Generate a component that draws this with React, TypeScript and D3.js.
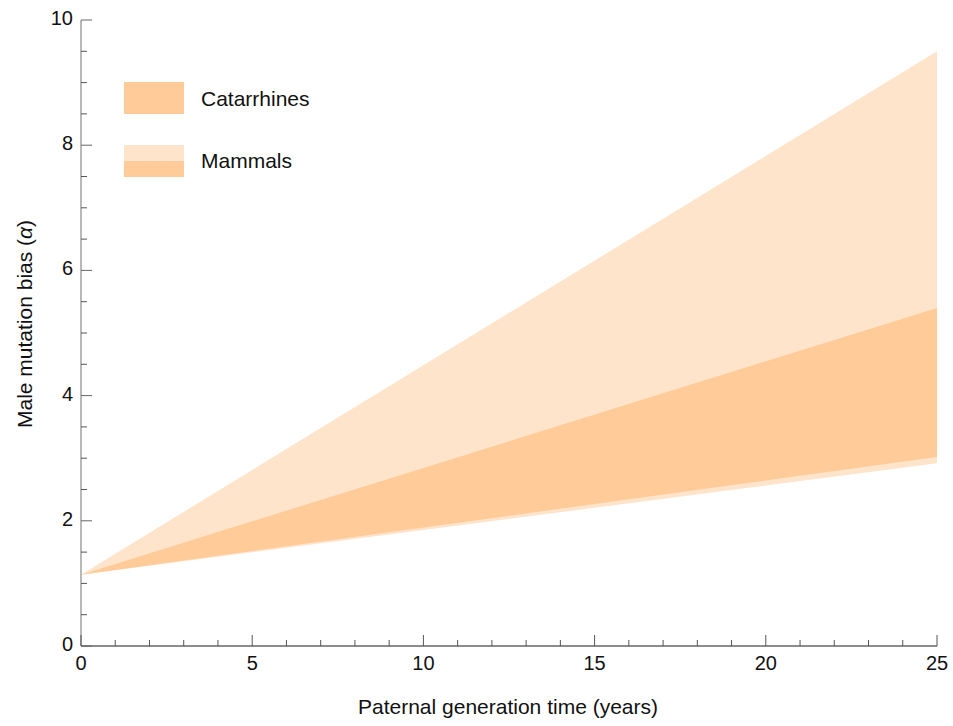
import * as d3 from "d3";
import React, { useRef, useEffect } from "react";

// generation time (years)
const years = [0, 25];
// male mutation bias bands
const mammalsLow = [1.14, 2.92];
const mammalsHigh = [1.14, 9.5];
const catarrhinesLow = [1.14, 3.02];
const catarrhinesHigh = [1.14, 5.4];

const xTicks = [0, 5, 10, 15, 20, 25];
const yTicks = [0, 2, 4, 6, 8, 10];

const legendItems = ["Catarrhines", "Mammals"];

const W = 953;
const H = 726;
const DARK = "#ffcc99";
const LIGHT = "#ffe4cc";
const FONT = "'Liberation Sans', Arial, Helvetica, sans-serif";

function Chart() {
  const ref = useRef<SVGSVGElement>(null);

  useEffect(() => {
    const svg = d3.select(ref.current);
    svg.selectAll("*").remove();

    const x = d3.scaleLinear().domain([0, 25]).range([81, 937]);
    const y = d3.scaleLinear().domain([0, 10]).range([646, 20]);

    const area = (lo: number[], hi: number[]) =>
      d3
        .area<number>()
        .x((d) => x(d))
        .y0((d, i) => y(lo[i]))
        .y1((d, i) => y(hi[i]))(years);

    svg.append("path").attr("d", area(mammalsLow, mammalsHigh)).attr("fill", LIGHT);
    svg.append("path").attr("d", area(catarrhinesLow, catarrhinesHigh)).attr("fill", DARK);

    // y axis
    const ya = svg.append("g");
    ya.append("line")
      .attr("x1", x(0)).attr("x2", x(0))
      .attr("y1", y(10)).attr("y2", y(0))
      .attr("stroke", "#a0a0a0").attr("stroke-width", 1.5);
    d3.range(0, 10.01, 0.5).forEach((v) => {
      const major = v % 2 === 0;
      ya.append("line")
        .attr("x1", x(0)).attr("x2", x(0) + (major ? 11 : 6))
        .attr("y1", y(v)).attr("y2", y(v))
        .attr("stroke", major ? "#666" : "#555").attr("stroke-width", 1);
    });
    ya.selectAll("text.yt")
      .data(yTicks)
      .enter()
      .append("text")
      .attr("x", 73)
      .attr("y", (d) => y(d) + 5)
      .attr("text-anchor", "end")
      .attr("font-family", FONT)
      .attr("font-size", 20)
      .attr("fill", "#111")
      .text((d) => d);

    // x axis
    const xa = svg.append("g");
    xa.append("line")
      .attr("x1", x(0)).attr("x2", x(25))
      .attr("y1", y(0)).attr("y2", y(0))
      .attr("stroke", "#666").attr("stroke-width", 1.5);
    d3.range(0, 26).forEach((v) => {
      const major = v % 5 === 0;
      xa.append("line")
        .attr("x1", x(v)).attr("x2", x(v))
        .attr("y1", y(0)).attr("y2", y(0) - (major ? 11 : 6))
        .attr("stroke", "#555").attr("stroke-width", 1);
    });
    xa.selectAll("text.xt")
      .data(xTicks)
      .enter()
      .append("text")
      .attr("x", (d) => x(d))
      .attr("y", 670)
      .attr("text-anchor", "middle")
      .attr("font-family", FONT)
      .attr("font-size", 20)
      .attr("fill", "#111")
      .text((d) => d);

    // axis titles
    svg.append("text")
      .attr("x", 508).attr("y", 714)
      .attr("text-anchor", "middle")
      .attr("font-family", FONT).attr("font-size", 21).attr("fill", "#111")
      .text("Paternal generation time (years)");

    const yt = svg.append("text")
      .attr("transform", "translate(32,324) rotate(-90)")
      .attr("text-anchor", "middle")
      .attr("font-family", FONT).attr("font-size", 21).attr("fill", "#111");
    yt.append("tspan").text("Male mutation bias (");
    yt.append("tspan").attr("font-style", "italic").text("α");
    yt.append("tspan").text(")");

    // legend
    const lg = svg.append("g");
    lg.append("rect").attr("x", 124).attr("y", 82).attr("width", 60).attr("height", 32).attr("fill", DARK);
    lg.append("rect").attr("x", 124).attr("y", 145).attr("width", 60).attr("height", 16).attr("fill", LIGHT);
    lg.append("rect").attr("x", 124).attr("y", 161).attr("width", 60).attr("height", 16).attr("fill", DARK);
    lg.selectAll("text.lg")
      .data(legendItems)
      .enter()
      .append("text")
      .attr("x", 201)
      .attr("y", (d, i) => 106 + i * 62)
      .attr("font-family", FONT)
      .attr("font-size", 21)
      .attr("fill", "#111")
      .text((d) => d);
  }, []);

  return <svg ref={ref} width={W} height={H} style={{ display: "block" }}></svg>;
}

export default function App() {
  return (
    <div style={{ position: "absolute", left: 0, top: 0 }}>
      <Chart />
    </div>
  );
}
